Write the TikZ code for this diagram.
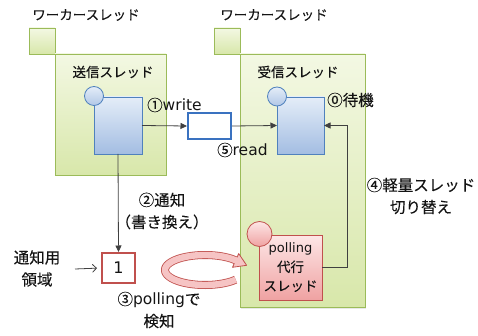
\documentclass[tikz,border=0pt]{standalone}
\usepackage{fontspec}
\setmainfont{Noto Sans CJK JP}[FakeBold=0.12]
\newfontfamily\lat{DejaVu Sans}
\usetikzlibrary{arrows.meta,shadows}
\definecolor{gtop}{HTML}{F3F8E3}
\definecolor{gbot}{HTML}{D8E7AA}
\definecolor{gline}{HTML}{9BBB59}
\definecolor{btop}{HTML}{E4EDF8}
\definecolor{bbot}{HTML}{A3BDE2}
\definecolor{bline}{HTML}{4F81BD}
\definecolor{ptop}{HTML}{FDE6E6}
\definecolor{pbot}{HTML}{EFA2A2}
\definecolor{pline}{HTML}{C0504D}
\definecolor{ringfill}{HTML}{F6C4C4}
\definecolor{bufline}{HTML}{3A72C0}
\definecolor{txt}{HTML}{141414}
\definecolor{conn}{HTML}{404040}
\begin{document}
\begin{tikzpicture}[x=1pt,y=-1pt,
  greenbox/.style={rectangle,draw=gline,line width=0.8pt,top color=gtop,bottom color=gbot,inner sep=0pt,outer sep=0pt,
    drop shadow={opacity=0.18,shadow xshift=1pt,shadow yshift=-1.5pt}},
  smallsq/.style={rectangle,draw=gline,line width=0.8pt,top color=gtop,bottom color=gbot,inner sep=0pt,outer sep=0pt,minimum width=26pt,minimum height=26pt},
  bluebox/.style={rectangle,draw=bline,line width=0.8pt,top color=btop,bottom color=bbot,inner sep=0pt,outer sep=0pt},
  bluecirc/.style={circle,draw=bline,line width=0.8pt,top color=btop,bottom color=bbot!85!white,inner sep=0pt,minimum size=19pt},
  pinkbox/.style={rectangle,draw=pline,line width=0.8pt,top color=ptop,bottom color=pbot,inner sep=0pt,outer sep=0pt},
  pinkcirc/.style={circle,draw=pline,line width=0.8pt,top color=ptop,bottom color=pbot,inner sep=0pt,minimum size=25pt},
  conn/.style={draw=conn,line width=0.8pt,-{Triangle[length=6.5pt,width=6pt]}},
  ttl/.style={text=txt,font=\fontsize{13.5}{18}\selectfont,inner sep=0pt,align=center},
  lbl/.style={text=txt,font=\fontsize{15.5}{22}\selectfont,inner sep=0pt,align=center}]
\useasboundingbox (0,0) rectangle (478,336);

% worker threads
\node[ttl] (wk1) at (86,15) {ワーカースレッド};
\node[ttl] (wk2) at (274,15) {ワーカースレッド};
\node[smallsq] (sq1) at (42,41) {};
\node[smallsq] (sq2) at (227,41) {};
\node[greenbox,minimum width=111pt,minimum height=121pt] (lthr) at (110.5,114.5) {};
\node[greenbox,minimum width=125pt,minimum height=253pt] (rthr) at (302.5,180.5) {};

% boxes
\node[rectangle,draw=bufline,line width=2pt,fill=white,minimum width=43pt,minimum height=26pt,inner sep=0pt] (buf) at (209.5,126) {};
\node[bluebox,minimum width=48pt,minimum height=57pt] (lrect) at (118,125.5) {};
\node[bluebox,minimum width=47pt,minimum height=57pt] (rrect) at (300.5,125.5) {};
\node[rectangle,draw=pline,line width=2pt,fill=white,minimum width=33pt,minimum height=30pt,inner sep=0pt,text=txt,font=\lat\fontsize{16}{18}\selectfont] (one) at (118.5,268) {1};
\node[pinkbox,minimum width=63pt,minimum height=65pt,align=center,text=txt,font=\fontsize{13.5}{19}\selectfont] (poll) at (290.5,267.5) {{\lat\fontsize{13}{19}\selectfont polling}\\代行\\スレッド};
\coordinate (ret) at (347,125.5);

% connectors
\draw[conn] (lrect.east) -- (buf.west);
\draw[conn] (buf.east) -- (rrect.west);
\draw[conn] (lrect.south) -- (one.north);
\draw[conn] (poll.east) -| (ret) -- (rrect.east);

\node[bluecirc] (lc) at (94,96) {};
\node[bluecirc] (rc) at (277,96.5) {};
\node[pinkcirc] (pc) at (259.5,234) {};

% circular arrow
\draw[pline,line width=8pt] plot[domain=40:320,samples=80,smooth] ({205+40*cos(\x)},{270+15*sin(\x)});
\filldraw[draw=pline,fill=ringfill,line width=0.8pt,line join=round] (232.5,267.3) -- (246.6,265.3) -- (238.7,253.6) -- cycle;
\draw[ringfill,line width=6.4pt] plot[domain=40:320,samples=80,smooth] ({205+40*cos(\x)},{270+15*sin(\x)}) -- (236.7,260.9);

% labels
\node[ttl] (ttl1) at (113,72) {送信スレッド};
\node[ttl] (ttl2) at (298,72) {受信スレッド};
\node[lbl,anchor=west] (lw) at (147,105) {①{\lat write}};
\node[lbl,anchor=west] (lz) at (327,100) {⓪待機};
\node[lbl,anchor=west] (lr) at (217,150) {⑤{\lat read}};
\node[lbl] (ln) at (162,211) {②通知\\（書き換え）};
\node[lbl] (la) at (37,268.5) {通知用\\領域};
\node[lbl] (lp) at (159,310) {③{\lat polling}で\\検知};
\node[lbl] (lk) at (421,196) {④軽量スレッド\\切り替え};
\coordinate (ap) at (75,269);
\draw[draw=conn,line width=0.8pt,-{Straight Barb[length=4pt,width=8pt]},shorten >=4pt] (ap) -- (one.west);
\end{tikzpicture}
\end{document}
